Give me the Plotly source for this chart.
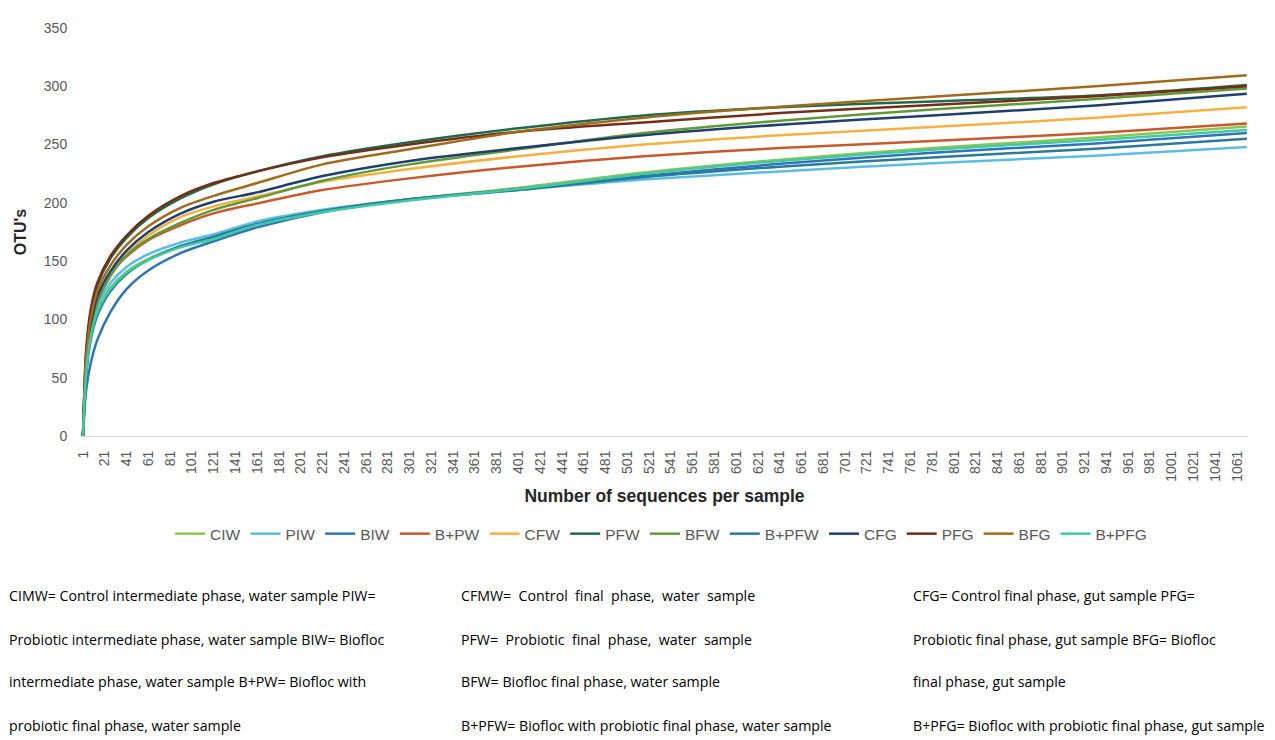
import plotly.graph_objects as go

# Sequencing depth (number of sequences per sample) at which OTU counts were read
seqs = [1, 4, 8, 14, 26, 41, 61, 91, 121, 161, 221, 301, 401, 516, 641, 781, 931, 1070]

CIW   = [0, 56, 86, 107, 127, 141, 152, 163, 170, 182, 193, 203, 213, 226, 237, 247, 256, 265.5]
PIW   = [0, 60, 90, 111, 131, 145, 156, 166, 173, 184, 194, 203, 211, 220, 227, 234, 240.5, 248]
BIW   = [0, 40, 62, 82, 106, 126, 142, 157, 167, 179, 192, 203, 212, 223, 233.5, 243, 251, 260]
BPW   = [0, 63, 96, 119, 139, 154, 168, 181, 191, 199.5, 211, 221, 231, 240, 247, 253, 260, 268]
CFW   = [0, 62, 95, 117, 139, 156, 172, 188, 197, 205.5, 218, 229, 240, 250, 258, 265, 273, 282]
PFW   = [0, 72, 105, 129, 152, 170, 187, 204, 216, 227, 240, 252, 264, 275, 282, 287, 292, 301]
BFW   = [0, 60, 92, 114, 137, 155, 169, 183, 194, 204, 219, 233, 246, 260, 270.5, 280, 289, 298]
BPFW  = [0, 52, 82, 103, 124, 139, 151, 163, 171, 182, 193, 203, 211, 222, 231, 239, 246.5, 255]
CFG   = [0, 62, 95, 119, 141, 159, 175, 191, 201, 209, 223, 236, 247, 258, 267, 275, 283.5, 293.5]
PFG   = [0, 75, 108, 131, 154, 172, 189, 206, 217, 227, 239, 250, 261, 269, 277, 284, 291.5, 300]
BFG   = [0, 68, 100, 124, 146, 164, 180, 196, 206, 217, 233, 246, 261, 273, 282.5, 291, 300, 309.5]
BPFG  = [0, 55, 85, 106, 126, 140, 151, 162, 169, 181, 192, 202, 212, 225, 236, 245.5, 254, 262.5]

names = ["CIW", "PIW", "BIW", "B+PW", "CFW", "PFW", "BFW", "B+PFW", "CFG", "PFG", "BFG", "B+PFG"]
series = [CIW, PIW, BIW, BPW, CFW, PFW, BFW, BPFW, CFG, PFG, BFG, BPFG]
colors = ["#8cc652", "#5bbde4", "#2e74b8", "#c65a2c", "#f5b043", "#1f6b4c",
          "#609a3a", "#2a7a9c", "#213f6b", "#732f18", "#9e6c1c", "#42c9a2"]

x_ticks = list(range(1, 1062, 20))

footnote_col1 = ["CIMW= Control intermediate phase, water sample PIW=",
                 "Probiotic intermediate phase, water sample BIW= Biofloc",
                 "intermediate phase, water sample B+PW= Biofloc with",
                 "probiotic final phase, water sample"]
NB = "\u00a0"
footnote_col2 = [f"CFMW={NB} Control{NB} final{NB} phase,{NB} water{NB} sample",
                 f"PFW={NB} Probiotic{NB} final{NB} phase,{NB} water{NB} sample",
                 "BFW= Biofloc final phase, water sample",
                 "B+PFW= Biofloc with probiotic final phase, water sample"]
footnote_col3 = ["CFG= Control final phase, gut sample PFG=",
                 "Probiotic final phase, gut sample BFG= Biofloc",
                 "final phase, gut sample",
                 "B+PFG= Biofloc with probiotic final phase, gut sample"]

fig = go.Figure()
for n, s, c in zip(names, series, colors):
    fig.add_trace(go.Scatter(x=seqs, y=s, name=n, mode="lines",
                             line=dict(color=c, width=2.5, shape="spline", smoothing=0.8)))

OFF = 8  # page body margin
W, H = 1275 - OFF, 740 - OFF
L, R, T = 76 - OFF, 27, 20 - OFF
B = H - (436 - OFF)
plot_w = W - L - R
plot_h = H - T - B
px_per_seq = 1.0934
x0 = 1 - 2 / px_per_seq
x1 = x0 + plot_w / px_per_seq

fig.update_layout(
    width=W, height=H,
    margin=dict(l=L, r=R, t=T, b=B),
    paper_bgcolor="white", plot_bgcolor="white",
    font=dict(family="Liberation Sans, Arial, sans-serif", color="#595959", size=14),
    showlegend=True,
    legend=dict(orientation="h", x=0.497, xanchor="center", y=(436 - 536) / plot_h, yanchor="middle",
                font=dict(size=15.5, color="#595959"), itemwidth=30),
    xaxis=dict(range=[x0, x1], tickmode="array", tickvals=x_ticks,
               ticktext=[str(v) for v in x_ticks], tickangle=-90,
               showgrid=False, zeroline=False, showline=True, linecolor="#d9d9d9",
               linewidth=1, ticks="outside", ticklen=8, tickcolor="rgba(0,0,0,0)",
               tickfont=dict(size=14, color="#595959"),
               title=dict(text="<b>Number of sequences per sample</b>",
                          font=dict(size=17.5, color="#262626"), standoff=8)),
    yaxis=dict(range=[0, 350], tickmode="array", tickvals=list(range(0, 351, 50)),
               showgrid=False, zeroline=False, showline=False,
               ticks="outside", ticklen=10, tickcolor="rgba(0,0,0,0)",
               tickfont=dict(size=14, color="#595959"),
               title=dict(text="<b>OTU's</b>", font=dict(size=16, color="#262626"), standoff=13)),
)

row_px = [599, 643, 686, 731]
col_px = [2, 456, 910]
for cx, col in zip(col_px, [footnote_col1, footnote_col2, footnote_col3]):
    for ry, txt in zip(row_px, col):
        fig.add_annotation(text=txt, xref="paper", yref="paper",
                           x=(cx - OFF - L) / plot_w, y=(H - B - (ry - OFF)) / plot_h,
                           xanchor="left", yanchor="middle", showarrow=False,
                           font=dict(family="Open Sans, Noto Sans, sans-serif", size=14.2, color="#000000"))

fig.write_html("out.html")
